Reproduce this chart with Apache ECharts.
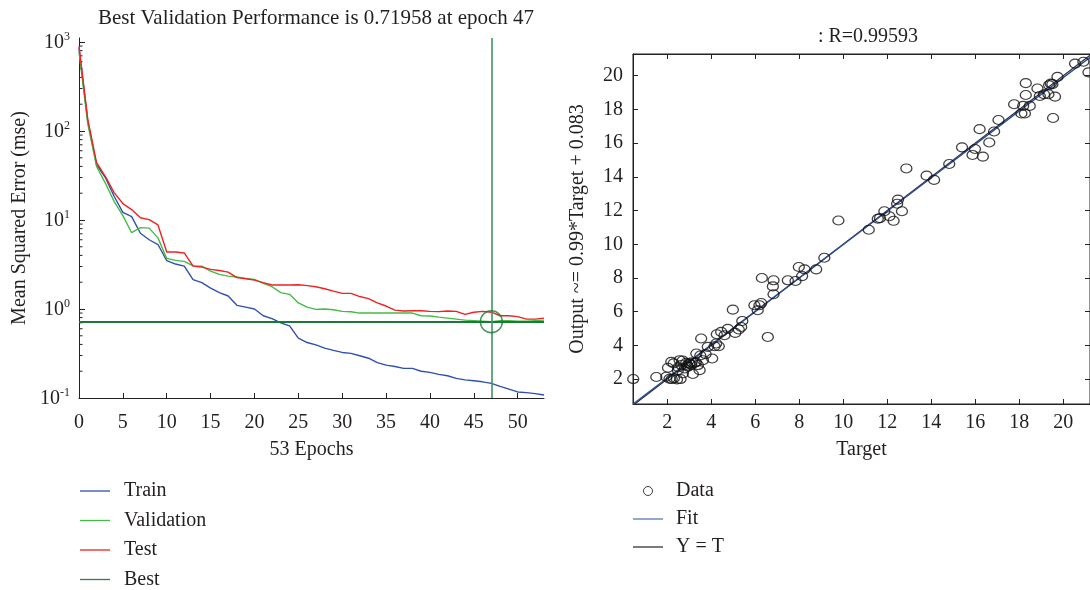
<!DOCTYPE html>
<html><head><meta charset="utf-8">
<script src="https://cdn.jsdelivr.net/npm/echarts@6/dist/echarts.min.js"></script>
<style>html,body{margin:0;padding:0;background:#fff}#c{width:1090px;height:590px}</style>
</head><body><div id="c"></div>
<script>
// ---------- Performance plot data ----------
const epochs = [0,1,2,3,4,5,6,7,8,9,10,11,12,13,14,15,16,17,18,19,20,21,22,23,24,25,26,27,28,29,30,31,32,33,34,35,36,37,38,39,40,41,42,43,44,45,46,47,48,49,50,51,52,53];
const trainMse = [850,130,42,30,18.5,12.2,10.9,7.1,6.0,5.3,3.5,3.2,3.03,2.14,1.98,1.72,1.53,1.40,1.10,1.05,1.0,0.84,0.78,0.70,0.645,0.47,0.42,0.395,0.364,0.343,0.325,0.317,0.298,0.28,0.25,0.234,0.226,0.215,0.215,0.2,0.194,0.184,0.178,0.166,0.16,0.156,0.152,0.146,0.135,0.126,0.117,0.115,0.112,0.108];
const validationMse = [780,120,40,26,16.2,11.2,7.2,8.2,8.1,6.3,3.7,3.52,3.43,3.05,3.03,2.67,2.45,2.34,2.29,2.21,2.15,1.94,1.78,1.53,1.46,1.17,1.05,0.99,1.0,0.98,0.94,0.93,0.9,0.9,0.9,0.9,0.9,0.9,0.9,0.84,0.835,0.81,0.79,0.77,0.75,0.74,0.73,0.71958,0.74,0.74,0.73,0.73,0.74,0.75];
const testMse = [900,135,44,31,20.3,15.3,13.1,10.6,10.1,8.8,4.37,4.37,4.26,3.03,2.96,2.79,2.71,2.6,2.25,2.19,2.11,1.98,1.86,1.86,1.86,1.87,1.83,1.78,1.69,1.59,1.5,1.5,1.38,1.31,1.17,1.08,0.97,0.95,0.955,0.955,0.94,0.935,0.95,0.94,0.87,0.92,0.94,0.92,0.84,0.84,0.82,0.77,0.77,0.79];
const bestEpoch = 47;
const bestPerf = 0.71958;
const mseRange = [0.1, 1109];
const minorMseTicks = [0.2,0.3,0.4,0.5,0.6,0.7,0.8,0.9,2,3,4,5,6,7,8,9,20,30,40,50,60,70,80,90,200,300,400,500,600,700,800,900];

// ---------- Regression plot data ----------
const rValue = 0.99593;
const fitSlope = 0.99;
const fitIntercept = 0.083;
const regTicks = [2,4,6,8,10,12,14,16,18,20];
const targetRange = [0.44, 21.22];
const outputRange = [0.52, 21.29];
const targets = [0.45,1.5,1.95,2.03,2.1,2.18,2.29,2.44,2.48,2.56,2.64,2.71,2.79,2.86,2.94,3.01,3.09,3.16,3.24,3.32,3.39,3.47,3.54,3.62,3.74,3.84,4.04,4.15,4.22,4.34,4.25,4.45,4.6,4.75,4.98,5.09,5.25,5.36,5.41,5.96,6.11,6.19,6.27,6.3,6.57,6.8,6.83,6.83,7.48,7.83,7.98,8.13,8.24,8.77,9.14,
  2.2,2.3,2.6,3.0,3.1,2.9,3.3,2.5,2.7,3.5,
  9.78,11.16,11.57,11.67,11.87,12.1,12.29,12.45,12.49,12.67,12.87,13.79,14.13,14.82,15.4,15.88,15.99,16.2,16.35,16.64,16.86,17.06,17.77,18.1,18.18,18.26,18.3,18.3,18.48,18.83,18.94,19.13,19.33,19.36,19.44,19.51,19.54,19.63,19.74,20.54,20.92,21.15];
const outputs = [2.0,2.12,2.14,2.67,2.02,3.02,2.93,1.98,2.53,3.12,2.83,2.34,2.63,2.96,2.73,2.93,2.85,2.3,2.96,3.52,2.83,2.53,4.41,3.12,3.48,3.91,3.22,3.95,4.11,3.95,4.66,4.8,4.6,4.98,6.12,4.74,4.94,5.09,5.45,6.38,6.08,6.38,6.51,8.0,4.5,7.5,7.86,7.03,7.86,7.82,8.65,8.11,8.51,8.51,9.2,
  2.0,2.05,2.0,2.9,3.0,2.8,3.0,2.7,3.1,3.4,
  11.41,10.86,11.51,11.55,11.96,11.66,11.39,12.4,12.65,11.96,14.5,14.07,13.82,14.76,15.75,15.3,15.65,16.83,15.2,16.04,16.69,17.37,18.31,17.76,18.21,17.76,19.56,18.86,18.21,19.24,18.8,18.9,18.9,19.44,19.53,19.5,17.49,18.76,19.93,20.72,20.83,20.2];

const FONT = 'Liberation Serif';
const FS = 20;
const TXT = '#231f20';
const AX = '#222';
const LINE_ICON = 'path://M0,0H30V1.3H0Z';

const chart = echarts.init(document.getElementById('c'), null, {renderer: 'canvas'});
const txt = (size) => ({fontFamily: FONT, fontSize: size, color: TXT});

chart.setOption({
  animation: false,
  backgroundColor: '#fff',
  title: [
    {text: 'Best Validation Performance is ' + bestPerf + ' at epoch ' + bestEpoch, left: 311, top: 3, textAlign: 'center', textStyle: Object.assign(txt(21), {fontWeight: 'normal'})},
    {text: ': R=' + rValue, left: 863, top: 22, textAlign: 'center', textStyle: Object.assign(txt(FS), {fontWeight: 'normal'})}
  ],
  legend: [
    {
      orient: 'vertical', left: 80, top: 481, padding: 0, height: 120, itemWidth: 30, itemHeight: 14, itemGap: 9.5,
      symbolKeepAspect: true,
      data: [
        {name: 'Train', icon: LINE_ICON},
        {name: 'Validation', icon: LINE_ICON},
        {name: 'Test', icon: LINE_ICON},
        {name: 'Best', icon: LINE_ICON}
      ],
      textStyle: Object.assign(txt(FS), {lineHeight: 20, padding: [0, 0, 0, 9]}),
      selectedMode: false
    },
    {
      orient: 'vertical', left: 633, top: 481, padding: 0, height: 100, itemWidth: 30, itemHeight: 9, itemGap: 8,
      symbolKeepAspect: true,
      data: [{name: 'Data', icon: 'circle', itemStyle: {borderWidth: 1}}, {name: 'Fit', icon: LINE_ICON}, {name: 'Y = T', icon: LINE_ICON}],
      textStyle: Object.assign(txt(FS), {lineHeight: 20, padding: [0, 0, 0, 8]}),
      selectedMode: false
    }
  ],
  grid: [
    {left: 79, top: 38, width: 465, height: 360, containLabel: false},
    {left: 633, top: 54, width: 458, height: 350, containLabel: false, show: true, borderColor: AX, borderWidth: 1}
  ],
  xAxis: [
    {
      gridIndex: 0, type: 'value', min: 0, max: epochs[epochs.length - 1], interval: 5,
      axisLine: {lineStyle: {color: AX, width: 1}},
      axisTick: {inside: true, length: 5, lineStyle: {color: AX}},
      axisLabel: Object.assign(txt(FS), {margin: 15, showMaxLabel: false}),
      splitLine: {show: false},
      name: epochs[epochs.length - 1] + ' Epochs', nameLocation: 'middle', nameGap: 42,
      nameTextStyle: txt(FS)
    },
    {
      gridIndex: 1, type: 'value', min: targetRange[0], max: targetRange[1], splitNumber: 10,
      axisLine: {lineStyle: {color: AX, width: 1}},
      axisTick: {inside: true, length: 5, lineStyle: {color: AX}, customValues: regTicks},
      axisLabel: Object.assign(txt(FS), {margin: 9, customValues: regTicks}),
      splitLine: {show: false},
      name: 'Target', nameLocation: 'middle', nameGap: 36, nameTextStyle: txt(FS)
    },
    {
      gridIndex: 1, type: 'value', position: 'top', min: targetRange[0], max: targetRange[1], splitNumber: 10,
      axisLine: {lineStyle: {color: AX, width: 1}},
      axisTick: {inside: true, length: 5, lineStyle: {color: AX}, customValues: regTicks},
      axisLabel: {show: false, customValues: regTicks},
      splitLine: {show: false}
    }
  ],
  yAxis: [
    {
      gridIndex: 0, type: 'log', logBase: 10, min: mseRange[0], max: mseRange[1],
      axisLine: {show: true, lineStyle: {color: AX, width: 1}},
      axisTick: {show: true, inside: true, length: 6, lineStyle: {color: AX}},
      axisLabel: {
        margin: 9,
        formatter: function (v) { return '{a|10}{b|' + Math.round(Math.log10(v)) + '}'; },
        rich: {
          a: {fontFamily: FONT, fontSize: FS, color: TXT, lineHeight: 22, verticalAlign: 'bottom'},
          b: {fontFamily: FONT, fontSize: 12, color: TXT, lineHeight: 12, verticalAlign: 'top'}
        }
      },
      splitLine: {show: false},
      name: 'Mean Squared Error (mse)', nameLocation: 'middle', nameGap: 49,
      nameTextStyle: txt(FS)
    },
    {
      gridIndex: 1, type: 'value', min: outputRange[0], max: outputRange[1], splitNumber: 10,
      axisLine: {show: true, lineStyle: {color: AX, width: 1}},
      axisTick: {show: true, inside: true, length: 5, lineStyle: {color: AX}, customValues: regTicks},
      axisLabel: Object.assign(txt(FS), {margin: 10, customValues: regTicks}),
      splitLine: {show: false},
      name: 'Output ~= ' + fitSlope + '*Target + ' + fitIntercept, nameLocation: 'middle', nameGap: 45,
      nameTextStyle: txt(FS)
    },
    {
      gridIndex: 1, type: 'value', position: 'right', min: outputRange[0], max: outputRange[1], splitNumber: 10,
      axisLine: {show: true, lineStyle: {color: AX, width: 1}},
      axisTick: {show: true, inside: true, length: 5, lineStyle: {color: AX}, customValues: regTicks},
      axisLabel: {show: false, customValues: regTicks},
      splitLine: {show: false}
    }
  ],
  series: [
    {
      name: 'Train', type: 'line', xAxisIndex: 0, yAxisIndex: 0, symbol: 'none',
      data: epochs.map((e, i) => [e, trainMse[i]]),
      lineStyle: {color: '#3050b0', width: 1.4}, itemStyle: {color: '#3050b0'}, z: 3
    },
    {
      name: 'Validation', type: 'line', xAxisIndex: 0, yAxisIndex: 0, symbol: 'none',
      data: epochs.map((e, i) => [e, validationMse[i]]),
      lineStyle: {color: '#44bb44', width: 1.4}, itemStyle: {color: '#44bb44'}, z: 3
    },
    {
      name: 'Test', type: 'line', xAxisIndex: 0, yAxisIndex: 0, symbol: 'none',
      data: epochs.map((e, i) => [e, testMse[i]]),
      lineStyle: {color: '#ee2222', width: 1.4}, itemStyle: {color: '#ee2222'}, z: 4
    },
    {
      name: 'Best', type: 'line', xAxisIndex: 0, yAxisIndex: 0, symbol: 'none', data: [],
      lineStyle: {color: '#2a7f4a', width: 1.6}, itemStyle: {color: '#2a7f4a'},
      markLine: {
        silent: true, symbol: ['none', 'none'], label: {show: false},
        data: [
          {yAxis: bestPerf, lineStyle: {color: '#187a38', width: 1.8, type: 'solid'}},
          {xAxis: bestEpoch, lineStyle: {color: '#3f9464', width: 1.6, type: 'solid'}}
        ]
      }, z: 5
    },
    {
      name: 'BestPoint', type: 'scatter', xAxisIndex: 0, yAxisIndex: 0,
      data: [[bestEpoch, bestPerf]], symbol: 'circle', symbolSize: 22,
      itemStyle: {color: 'rgba(0,0,0,0)', borderColor: '#187a38', borderWidth: 1.5}, z: 6, silent: true
    },
    {
      name: 'minorTicks', type: 'custom', xAxisIndex: 0, yAxisIndex: 0, silent: true, clip: false,
      data: minorMseTicks.map(v => [epochs[0], v]),
      renderItem: function (params, api) {
        const p = api.coord([api.value(0), api.value(1)]);
        return {type: 'line', shape: {x1: p[0], y1: p[1], x2: p[0] + 3.5, y2: p[1]}, style: {stroke: AX, lineWidth: 1}};
      }, z: 2
    },
    {
      name: 'Y = T', type: 'line', xAxisIndex: 1, yAxisIndex: 1, symbol: 'none',
      data: [[targetRange[0], targetRange[0]], [targetRange[1], targetRange[1]]],
      lineStyle: {color: '#333', width: 1.2}, itemStyle: {color: '#333'}, z: 2
    },
    {
      name: 'Fit', type: 'line', xAxisIndex: 1, yAxisIndex: 1, symbol: 'none',
      data: [[targetRange[0], fitSlope * targetRange[0] + fitIntercept], [targetRange[1], fitSlope * targetRange[1] + fitIntercept]],
      lineStyle: {color: '#2b4c9b', width: 1.3}, itemStyle: {color: '#5a75b8'}, z: 3
    },
    {
      name: 'Data', type: 'scatter', xAxisIndex: 1, yAxisIndex: 1,
      data: targets.map((t, i) => [t, outputs[i]]), symbol: 'circle', symbolSize: [11, 9],
      itemStyle: {color: 'rgba(0,0,0,0)', borderColor: '#111', borderWidth: 1.2}, z: 4
    }
  ]
});
</script></body></html>
